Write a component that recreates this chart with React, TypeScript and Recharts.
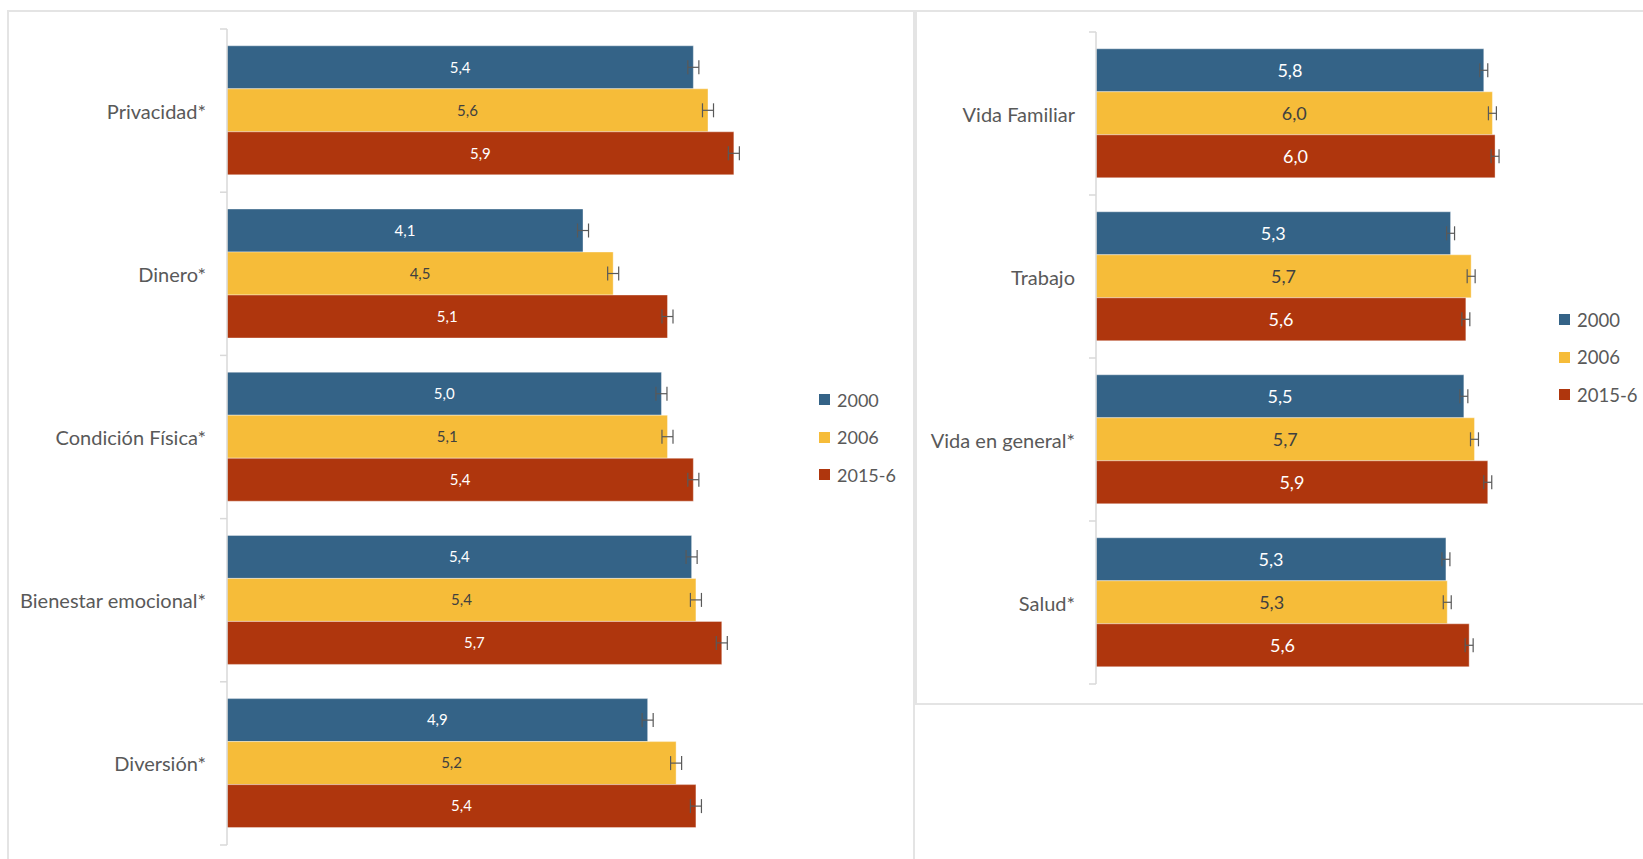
import { Bar, BarChart, ErrorBar, LabelList, Legend, XAxis, YAxis } from "recharts";

const leftCategories = ["Privacidad*", "Dinero*", "Condición Física*", "Bienestar emocional*", "Diversión*"];
const left2000 = [5.41, 4.13, 5.04, 5.39, 4.88];
const left2006 = [5.58, 4.48, 5.11, 5.44, 5.21];
const left2015 = [5.88, 5.11, 5.41, 5.74, 5.44];
const leftErr2000 = [0.064, 0.064, 0.064, 0.064, 0.064];
const leftErr2006 = [0.064, 0.064, 0.064, 0.064, 0.064];
const leftErr2015 = [0.064, 0.064, 0.064, 0.064, 0.064];

const rightCategories = ["Vida Familiar", "Trabajo", "Vida en general*", "Salud*"];
const right2000 = [5.84, 5.34, 5.54, 5.27];
const right2006 = [5.97, 5.65, 5.7, 5.29];
const right2015 = [6.01, 5.57, 5.9, 5.62];
const rightErr2000 = [0.06, 0.06, 0.06, 0.06];
const rightErr2006 = [0.06, 0.06, 0.06, 0.06];
const rightErr2015 = [0.06, 0.06, 0.06, 0.06];

const seriesNames = ["2000", "2006", "2015-6"];
const seriesColors = ["#346387", "#F6BC39", "#AF360D"];
const labelColors = ["#ffffff", "#404040", "#ffffff"];

const FONT = "Lato, 'Open Sans', sans-serif";
const AXIS_GRAY = "#d9d9d9";
const TEXT_GRAY = "#595959";

function buildRows(cats: string[], a: number[], b: number[], c: number[], ea: number[], eb: number[], ec: number[]) {
  return cats.map((name, i) => ({
    name,
    s0: a[i],
    s1: b[i],
    s2: c[i],
    e0: ea[i],
    e1: eb[i],
    e2: ec[i],
  }));
}

const leftData = buildRows(leftCategories, left2000, left2006, left2015, leftErr2000, leftErr2006, leftErr2015);
const rightData = buildRows(rightCategories, right2000, right2006, right2015, rightErr2000, rightErr2006, rightErr2015);

const fmt = (v: any) => (typeof v === "number" ? v.toFixed(1).replace(".", ",") : v);

function CategoryTick(props: any) {
  const { x, y, payload, index, visibleTicksCount } = props;
  const half = payload?.offset ?? 81.6;
  const axisX = x + 14 + 7;
  return (
    <g>
      <text x={x} y={y} textAnchor="end" dominantBaseline="central" fill={TEXT_GRAY} fontSize={20} fontFamily={FONT}>
        {payload.value}
      </text>
      <line x1={axisX - 7} x2={axisX} y1={y - half} y2={y - half} stroke={AXIS_GRAY} strokeWidth={1.5} />
      {index === visibleTicksCount - 1 && (
        <line x1={axisX - 7} x2={axisX} y1={y + half} y2={y + half} stroke={AXIS_GRAY} strokeWidth={1.5} />
      )}
    </g>
  );
}

function LegendBox({ size }: any) {
  const items = seriesNames.map((n, i) => ({ n, c: seriesColors[i] }));
  return (
    <div style={{ fontFamily: FONT }}>
      {items.map((it) => (
        <div key={it.n} style={{ height: 37.6, display: "flex", alignItems: "center" }}>
          <span style={{ width: 11, height: 11, background: it.c, display: "inline-block", marginRight: 7 }} />
          <span style={{ color: TEXT_GRAY, fontSize: size }}>{it.n}</span>
        </div>
      ))}
    </div>
  );
}

function Panel({ data, width, height, axisWidth, margin, labelSize, legendPos, legendSize }: any) {
  return (
    <BarChart
      width={width}
      height={height}
      data={data}
      layout="vertical"
      margin={margin}
      barCategoryGap="10.3%"
      barGap={0}
    >
      <XAxis type="number" domain={[0, 7]} hide />
      <YAxis
        type="category"
        dataKey="name"
        width={axisWidth}
        tickLine={false}
        tickSize={7}
        tickMargin={14}
        axisLine={{ stroke: AXIS_GRAY, strokeWidth: 1.5 }}
        tick={<CategoryTick />}
        interval={0}
      />
      <Legend
        layout="vertical"
        align="center"
        verticalAlign="middle"
        content={<LegendBox size={legendSize} />}
        wrapperStyle={{ left: legendPos.left, top: legendPos.top, width: 100, height: 113 }}
      />
      {seriesNames.map((n, i) => (
        <Bar
          key={n}
          dataKey={`s${i}`}
          name={n}
          fill={seriesColors[i]}
          stroke="#ffffff"
          strokeOpacity={0.5}
          strokeWidth={0.75}
          isAnimationActive={false}
        >
          <LabelList
            dataKey={`s${i}`}
            position="center"
            formatter={fmt}
            fill={labelColors[i]}
            fontSize={labelSize}
            fontFamily={FONT}
          />
          <ErrorBar dataKey={`e${i}`} direction="x" width={7} stroke="#595959" strokeWidth={1.2} />
        </Bar>
      ))}
    </BarChart>
  );
}

export default function App() {
  return (
    <div
      style={{
        position: "absolute",
        left: 0,
        top: 0,
        width: 1643,
        height: 859,
        overflow: "hidden",
        background: "#ffffff",
      }}
    >
      <div
        style={{
          position: "absolute",
          left: 7,
          top: 10,
          width: 904,
          height: 880,
          border: "2px solid #e4e4e4",
        }}
      />
      <div
        style={{
          position: "absolute",
          left: 915,
          top: 10,
          width: 760,
          height: 691,
          border: "2px solid #e4e4e4",
        }}
      />
      <div style={{ position: "absolute", left: 0, top: 0 }}>
        <Panel
          data={leftData}
          width={913}
          height={859}
          axisWidth={227}
          margin={{ top: 29, right: 82.6, bottom: 14, left: 0 }}
          labelSize={15}
          legendPos={{ left: 819, top: 381 }}
          legendSize={18}
        />
      </div>
      <div style={{ position: "absolute", left: 915, top: 0 }}>
        <Panel
          data={rightData}
          width={728}
          height={704}
          axisWidth={181}
          margin={{ top: 32, right: 82.2, bottom: 20, left: 0 }}
          labelSize={18}
          legendPos={{ left: 644, top: 301 }}
          legendSize={18.5}
        />
      </div>
    </div>
  );
}
